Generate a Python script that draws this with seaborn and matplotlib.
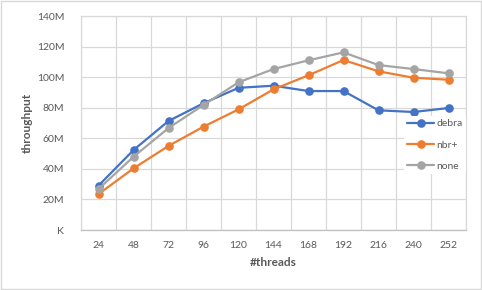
import pandas as pd
import seaborn as sns
import matplotlib
matplotlib.use("Agg")
import matplotlib.pyplot as plt
from matplotlib.patches import Rectangle
from matplotlib.ticker import FuncFormatter, MultipleLocator

threads = ["24", "48", "72", "96", "120", "144", "168", "192", "216", "240", "252"]
debra = [29.0, 52.3, 71.3, 82.9, 93.0, 94.4, 90.9, 90.9, 78.3, 77.2, 79.8]
nbr_plus = [23.5, 40.3, 55.0, 67.6, 78.9, 92.0, 101.2, 111.2, 103.8, 99.6, 98.3]
none = [26.8, 47.9, 66.7, 81.8, 96.6, 105.3, 111.0, 116.2, 107.9, 105.3, 102.5]

series = ["debra", "nbr+", "none"]
colors = ["#4472C4", "#ED7D31", "#A5A5A5"]

rows = []
for name, vals in zip(series, [debra, nbr_plus, none]):
    for t, v in zip(threads, vals):
        rows.append({"threads": t, "throughput": v * 1e6, "series": name})
df = pd.DataFrame(rows)

sns.set_style("white")
plt.rcParams["font.family"] = ["Lato", "DejaVu Sans"]
text_color = "#595959"
grid_color = "#D9D9D9"

fig = plt.figure(figsize=(4.82, 2.90), dpi=100)
ax = fig.add_axes([81 / 482, 1 - 230 / 290, 385 / 482, 214 / 290])

sns.pointplot(data=df, x="threads", y="throughput", hue="series",
              order=threads, hue_order=series, palette=colors,
              markers="o", errorbar=None, markersize=5, linewidth=1.6,
              ax=ax)

ax.set_ylim(0, 140e6)
ax.set_xlim(-0.5, len(threads) - 0.5)
ax.yaxis.set_major_locator(MultipleLocator(20e6))
ax.yaxis.set_major_formatter(FuncFormatter(
    lambda v, p: "K" if v == 0 else f"{v / 1e6:.0f}M"))
ax.xaxis.set_minor_locator(MultipleLocator(1, offset=0.5))

ax.grid(True, axis="y", which="major", color=grid_color, linewidth=0.9)
ax.grid(True, axis="x", which="minor", color=grid_color, linewidth=0.9)
ax.grid(False, axis="x", which="major")
ax.set_axisbelow(True)
for s in ax.spines.values():
    s.set_color(grid_color)
    s.set_linewidth(0.9)
ax.spines["bottom"].set_color("#BFBFBF")

ax.tick_params(axis="both", which="both", length=0, labelsize=7.5,
               labelcolor=text_color)
ax.tick_params(axis="y", pad=12)
ax.tick_params(axis="x", pad=8)

ax.set_xlabel("#threads", fontsize=8.6, fontweight="bold", color=text_color,
              labelpad=5)
ax.set_ylabel("throughput", fontsize=8.6, fontweight="bold", color=text_color,
              labelpad=3)

leg = ax.legend(loc="upper left", bbox_to_anchor=(404 / 482, 1 - 116 / 290),
                bbox_transform=fig.transFigure, frameon=True, fontsize=7.5,
                labelspacing=1.15, handlelength=2.6, handletextpad=0.2,
                borderpad=0.3, borderaxespad=0)
leg.get_frame().set_facecolor("white")
leg.get_frame().set_edgecolor("none")
leg.get_frame().set_alpha(1)
for t in leg.get_texts():
    t.set_color(text_color)

fig.patches.append(Rectangle((0.002, 0.003), 0.995, 0.993,
                             transform=fig.transFigure, fill=False,
                             edgecolor=grid_color, linewidth=1))

fig.savefig("out.png", dpi=100)
